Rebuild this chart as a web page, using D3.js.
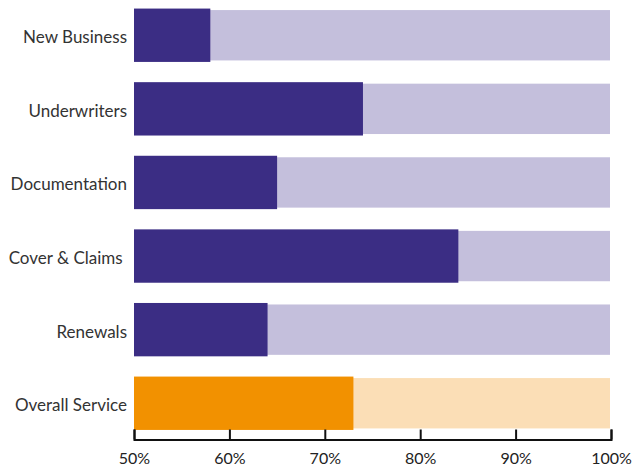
<!DOCTYPE html>
<html lang="en">
<head>
  <meta charset="UTF-8">
  <title>Service scores</title>
  <style>
    body { margin: 0; background: #fff; }
    svg { display: block; }
    .label { font: 17px Lato, sans-serif; fill: #333; }
    .axis text { font: 16px Lato, sans-serif; fill: #222; }
    .axis path, .axis line { stroke: #111; stroke-width: 2; }
  </style>
</head>
<body>
  <div id="chart"></div>
  <script src="https://d3js.org/d3.v7.min.js"></script>
  <script>
    const categories = ['New Business', 'Underwriters', 'Documentation', 'Cover & Claims\u00a0', 'Renewals', 'Overall Service'];
    const scores = [58, 74, 65, 84, 64, 73];
    const tickValues = [50, 60, 70, 80, 90, 100];

    const width = 633;
    const height = 466;

    const x = d3.scaleLinear().domain([50, 100]).range([134, 611]);
    const y = d3.scaleBand().domain(categories).range([-1, 439.5])
      .paddingInner(0.275).paddingOuter(0.13);

    const svg = d3.select('#chart').append('svg')
      .attr('width', width)
      .attr('height', height);

    const rows = svg.append('g').selectAll('g')
      .data(categories)
      .enter()
      .append('g');

    // full-width background bar
    rows.append('rect')
      .attr('x', x(50))
      .attr('y', d => y(d) + 1.5)
      .attr('width', x(100) - x(50) - 1)
      .attr('height', y.bandwidth() - 3)
      .attr('fill', (d, i) => i === categories.length - 1 ? '#fbdeb6' : '#c4bfdc');

    // score bar
    rows.append('rect')
      .attr('x', x(50))
      .attr('y', d => y(d))
      .attr('width', (d, i) => x(scores[i]) - x(50))
      .attr('height', y.bandwidth())
      .attr('fill', (d, i) => i === categories.length - 1 ? '#f29100' : '#3b2d84');

    rows.append('text')
      .classed('label', true)
      .attr('x', x(50) - 7)
      .attr('y', d => y(d) + y.bandwidth() / 2)
      .attr('dy', '0.47em')
      .attr('text-anchor', 'end')
      .text(d => d);

    const axis = d3.axisBottom(x)
      .tickValues(tickValues)
      .tickSize(-10)
      .tickPadding(13)
      .tickFormat(d => d + '%');

    svg.append('g')
      .classed('axis', true)
      .attr('transform', 'translate(0,439.5)')
      .call(axis);
  </script>
</body>
</html>
